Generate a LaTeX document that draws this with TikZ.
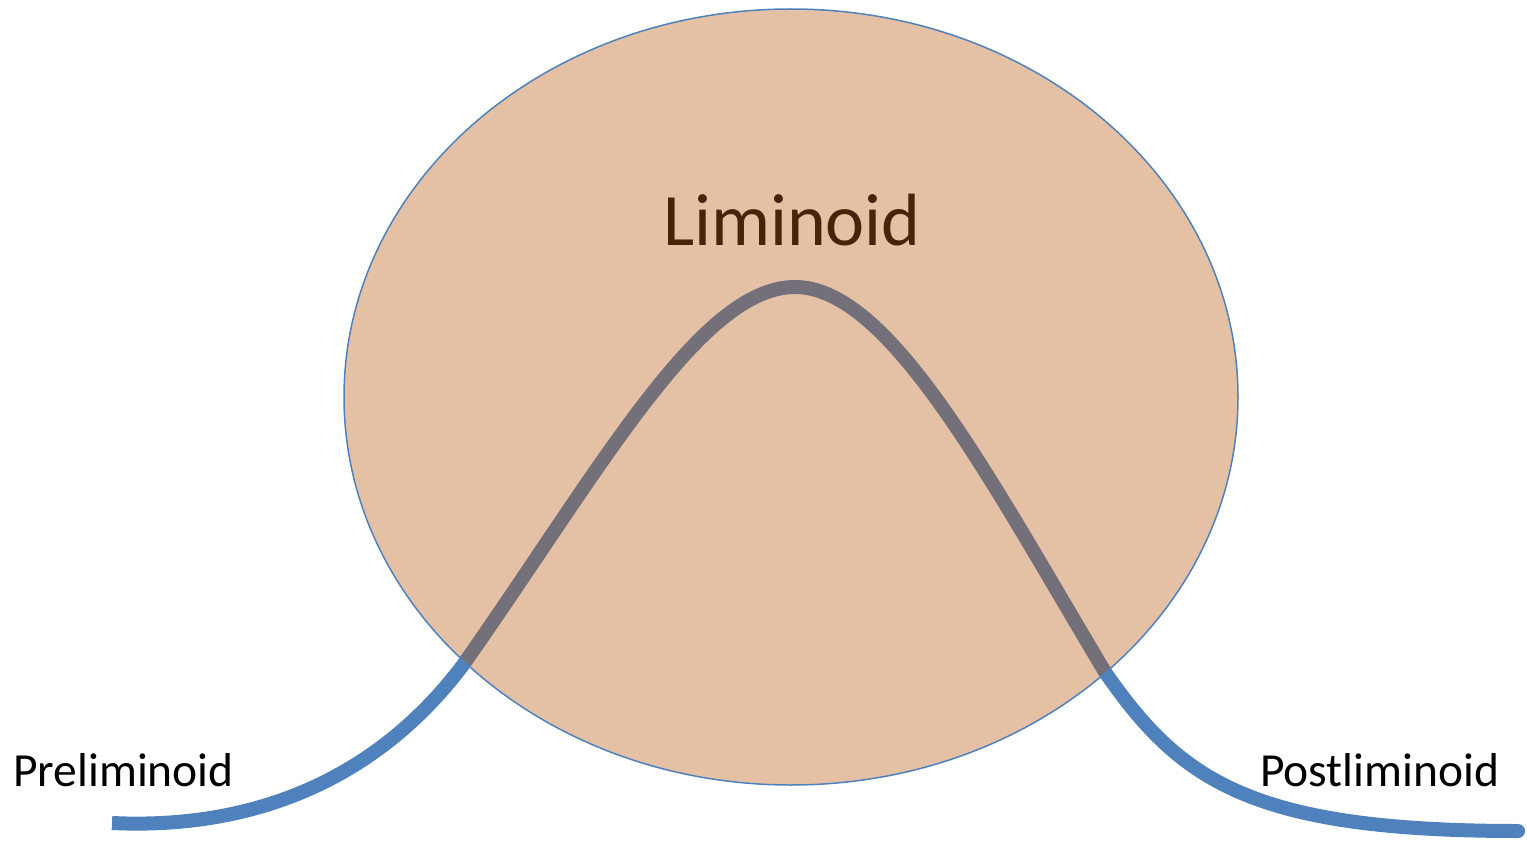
\documentclass[tikz,border=0pt]{standalone}
\usepackage{fontspec}
\setmainfont{Carlito}
\definecolor{curveblue}{RGB}{79,129,189}
\definecolor{ellfill}{RGB}{180,83,5}
\definecolor{ellline}{RGB}{79,129,189}
\definecolor{limbrown}{RGB}{70,36,8}
\tikzset{
  flow/.style={draw=curveblue, line width=14pt},
  zone/.style={fill=ellfill, fill opacity=0.36, draw=ellline, line width=1.5pt},
  biglabel/.style={font=\fontsize{74}{86}\selectfont, text=limbrown, inner sep=0pt},
  sidelabel/.style={font=\fontsize{47.5}{56}\selectfont, text=black, inner sep=0pt}
}
\begin{document}
\begin{tikzpicture}[x=1pt,y=-1pt]
\useasboundingbox (0,0) rectangle (1527,848);
\coordinate (s) at (112,823);
\coordinate (i1) at (463,665);
\coordinate (top) at (795,287);
\coordinate (i2) at (1105,672);
\coordinate (e) at (1518,831);
\draw[flow] (s) .. controls (260,830) and (380,775) .. (i1)
  .. controls (600,470) and (700,287) .. (top)
  .. controls (890,287) and (990,480) .. (i2)
  .. controls (1180,780) and (1250,831) .. (e);
\fill[curveblue] (e) circle (7pt);
\draw[zone] (791,397) ellipse [x radius=447, y radius=388];
\node[biglabel, anchor=base] (lim) at (792,245) {Liminoid};
\node[sidelabel, anchor=base west] (pre) at (13,786) {Preliminoid};
\node[sidelabel, anchor=base west] (post) at (1260,786) {Postliminoid};
\end{tikzpicture}
\end{document}
